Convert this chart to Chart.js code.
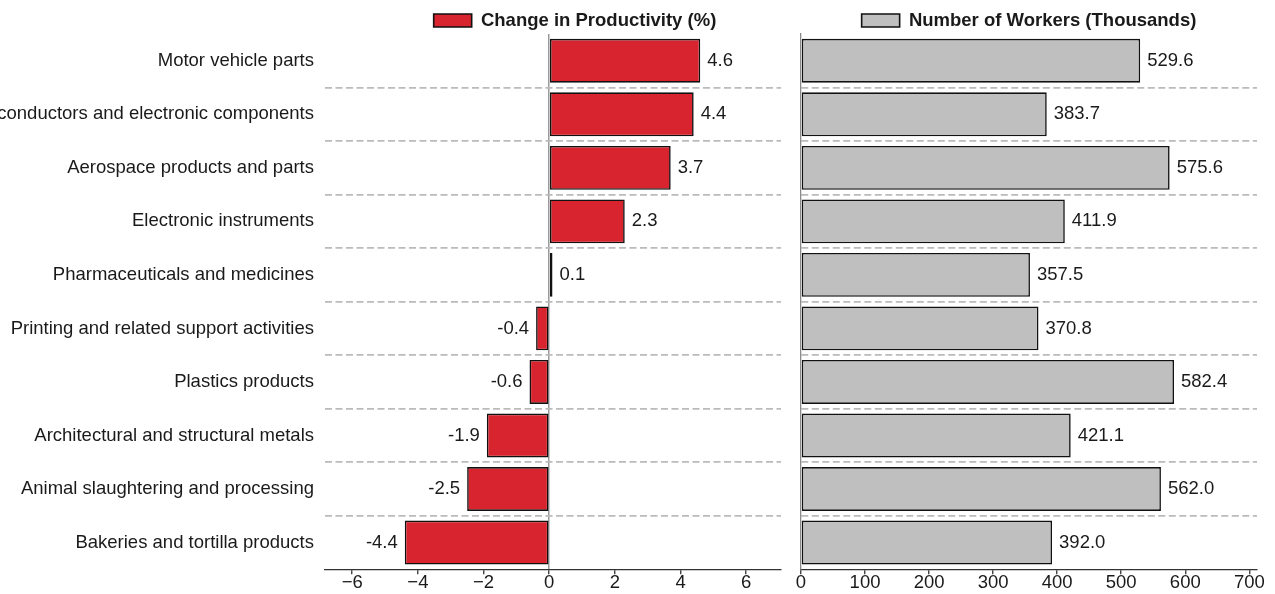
<!DOCTYPE html>
<html>
<head>
<meta charset="utf-8">
<script src="https://cdn.jsdelivr.net/npm/chart.js@4.4.1/dist/chart.umd.min.js"></script>
<style>
  html, body { margin: 0; padding: 0; background: #fff; }
  #wrap { position: relative; width: 1275px; height: 594px; overflow: hidden; }
  #left { position: absolute; left: 0; top: 0; width: 790px; height: 594px; }
  #right { position: absolute; left: 790px; top: 0; width: 485px; height: 594px; }
</style>
</head>
<body>
<div id="wrap">
  <div id="left"><canvas id="prod-chart"></canvas></div>
  <div id="right"><canvas id="workers-chart"></canvas></div>
</div>
<script>
/* ---- Data ---- */
const industries = [
  'Motor vehicle parts',
  'Semiconductors and electronic components',
  'Aerospace products and parts',
  'Electronic instruments',
  'Pharmaceuticals and medicines',
  'Printing and related support activities',
  'Plastics products',
  'Architectural and structural metals',
  'Animal slaughtering and processing',
  'Bakeries and tortilla products',
];

const productivityChange = [4.6, 4.4, 3.7, 2.3, 0.1, -0.4, -0.6, -1.9, -2.5, -4.4];
const workersThousands = [529.6, 383.7, 575.6, 411.9, 357.5, 370.8, 582.4, 421.1, 562.0, 392.0];

const productivityTicks = [-6, -4, -2, 0, 2, 4, 6];
const workerTicks = [0, 100, 200, 300, 400, 500, 600, 700];

/* ---- Shared styling ---- */
const FONT = '"Liberation Sans", Arial, Helvetica, sans-serif';
const FS = 18.5;
const INK = '#1a1a1a';
Chart.defaults.font.family = FONT;
Chart.defaults.font.size = FS;
Chart.defaults.color = INK;

/* value labels next to bar ends */
const valueLabels = {
  id: 'valueLabels',
  afterDatasetsDraw(chart) {
    const { ctx } = chart;
    const meta = chart.getDatasetMeta(0);
    const values = chart.data.datasets[0].data;
    ctx.save();
    ctx.font = FS + 'px ' + FONT;
    ctx.fillStyle = INK;
    ctx.textBaseline = 'middle';
    meta.data.forEach((bar, i) => {
      const v = values[i];
      const neg = v < 0;
      ctx.textAlign = neg ? 'right' : 'left';
      ctx.fillText(v.toFixed(1), bar.x + (neg ? -7 : 7), bar.y);
    });
    ctx.restore();
  },
};

/* move the legend so it sits centred on a given x, nudged down by dy */
const legendShift = {
  id: 'legendShift',
  afterLayout(chart, args, opts) {
    const lg = chart.legend;
    if (!lg || opts.center == null) return;
    const s = opts.center - (lg.left + lg.right) / 2;
    lg.left += s;
    lg.right += s;
    lg.top += opts.dy || 0;
    lg.bottom += opts.dy || 0;
  },
};

const fmtTick = (v) => (v < 0 ? '\u2212' + Math.abs(v) : String(v));

function dashedRows(ctx) {
  return ctx.type === 'tick' && ctx.index > 0 ? '#bbbbbb' : 'transparent';
}

function baseOptions({ ticks, min, max, yWidth, showLabels, showSpine, zeroLine, legendCenter, padRight }) {
  return {
    indexAxis: 'y',
    responsive: true,
    maintainAspectRatio: false,
    animation: false,
    layout: { padding: { top: 0, right: padRight, bottom: 1.5, left: 0 } },
    plugins: {
      legend: {
        position: 'top',
        labels: {
          boxWidth: 38,
          boxHeight: 13,
          padding: 5.5,
          font: { size: FS, weight: 'bold', family: FONT },
          color: INK,
        },
      },
      tooltip: { enabled: false },
      legendShift: { center: legendCenter, dy: 5.75 },
    },
    scales: {
      x: {
        min, max,
        afterBuildTicks: (s) => { s.ticks = ticks.map((v) => ({ value: v })); },
        ticks: { callback: fmtTick, padding: -2, color: INK, font: { size: FS } },
        grid: {
          drawOnChartArea: zeroLine,
          color: (c) => (zeroLine && c.tick && c.tick.value === 0 ? '#9a9a9a' : 'transparent'),
          lineWidth: 1.5,
          drawTicks: true,
          tickLength: 5,
          tickColor: '#333',
          tickWidth: 1.3,
        },
        border: { display: true, color: '#333', width: 1.3 },
      },
      y: {
        afterFit: (s) => { s.width = yWidth; s.paddingTop = 0; s.paddingBottom = 0; },
        ticks: { display: showLabels, autoSkip: false, padding: 11, color: INK, font: { size: FS } },
        grid: {
          offset: true,
          drawTicks: false,
          color: dashedRows,
          lineWidth: 1.8,
        },
        border: { display: showSpine, color: '#8a8a8a', width: 1.3, dash: [7, 3.5] },
      },
    },
  };
}

new Chart(document.getElementById('prod-chart'), {
  type: 'bar',
  data: {
    labels: industries,
    datasets: [{
      label: 'Change in Productivity (%)',
      data: productivityChange,
      backgroundColor: '#d7242e',
      borderColor: '#111',
      borderWidth: 1.6,
      borderSkipped: false,
      barPercentage: 0.82,
      categoryPercentage: 1,
    }],
  },
  options: baseOptions({
    ticks: productivityTicks, min: -6.83, max: 7.06,
    yWidth: 325, showLabels: true, showSpine: false, zeroLine: true,
    legendCenter: 575, padRight: 9,
  }),
  plugins: [valueLabels, legendShift],
});

new Chart(document.getElementById('workers-chart'), {
  type: 'bar',
  data: {
    labels: industries,
    datasets: [{
      label: 'Number of Workers (Thousands)',
      data: workersThousands,
      backgroundColor: '#bfbfbf',
      borderColor: '#111',
      borderWidth: 1.6,
      borderSkipped: false,
      barPercentage: 0.82,
      categoryPercentage: 1,
    }],
  },
  options: baseOptions({
    ticks: workerTicks, min: 0, max: 712,
    yWidth: 11, showLabels: false, showSpine: true, zeroLine: false,
    legendCenter: 239, padRight: 18,
  }),
  plugins: [valueLabels, legendShift],
});
</script>
</body>
</html>
